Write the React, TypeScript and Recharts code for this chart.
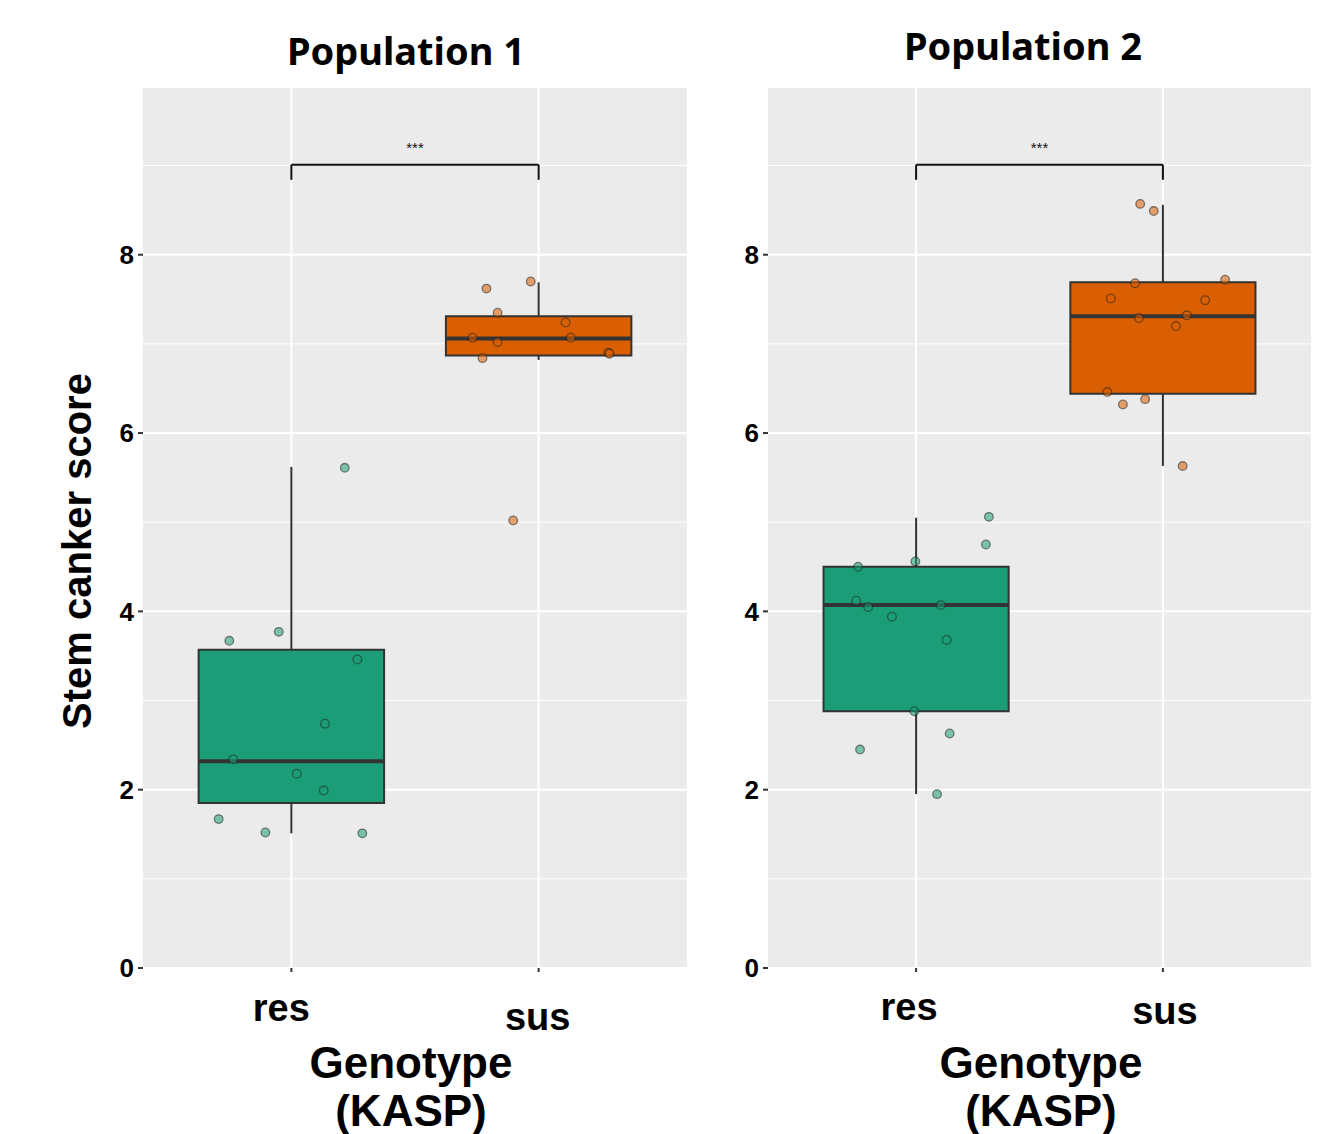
import { ComposedChart, Scatter, XAxis, YAxis, CartesianGrid, ReferenceArea, ReferenceLine } from 'recharts';

const CATEGORIES = ['res', 'sus'];
const Y_TICKS = [0, 2, 4, 6, 8];
const MINOR_TICKS = [1, 3, 5, 7, 9];
const COLORS = ['#1B9E77', '#D95F02'];

// box stats: lower whisker, q1, median, q3, upper whisker
const POP1_RES_BOX = [1.51, 1.85, 2.32, 3.57, 5.62];
const POP1_SUS_BOX = [6.82, 6.87, 7.06, 7.31, 7.69];
const POP2_RES_BOX = [1.95, 2.88, 4.07, 4.5, 5.05];
const POP2_SUS_BOX = [5.63, 6.44, 7.31, 7.69, 8.56];

// raw scores + horizontal jitter
const POP1_RES_SCORES = [5.61, 3.67, 3.77, 3.46, 2.74, 2.34, 2.18, 1.99, 1.67, 1.52, 1.51];
const POP1_RES_JITTER = [0.216, -0.251, -0.051, 0.267, 0.136, -0.235, 0.022, 0.131, -0.294, -0.105, 0.287];
const POP1_SUS_SCORES = [7.7, 7.62, 7.35, 7.24, 7.07, 7.07, 7.02, 6.9, 6.89, 6.84, 5.02];
const POP1_SUS_JITTER = [-0.032, -0.211, -0.166, 0.109, -0.267, 0.13, -0.166, 0.282, 0.287, -0.227, -0.103];
const POP2_RES_SCORES = [5.06, 4.75, 4.56, 4.5, 4.12, 4.05, 4.07, 3.94, 3.68, 2.88, 2.63, 2.45, 1.95];
const POP2_RES_JITTER = [0.295, 0.283, -0.003, -0.235, -0.243, -0.194, 0.1, -0.098, 0.124, -0.007, 0.136, -0.227, 0.085];
const POP2_SUS_SCORES = [8.57, 8.49, 7.72, 7.68, 7.51, 7.49, 7.32, 7.29, 7.2, 6.46, 6.38, 6.32, 5.63];
const POP2_SUS_JITTER = [-0.092, -0.037, 0.252, -0.113, -0.211, 0.171, 0.097, -0.097, 0.053, -0.225, -0.072, -0.162, 0.08];

const SIGNIF = '***';
const BRACKET = [8.84, 9.01]; // leg bottom, bar height

const BOX_W = 0.75;
const FONT = "'Liberation Sans', Arial, sans-serif";

const XTick = (props: any) => {
  const { x, y, payload, shifts } = props;
  const i = payload.value - 1;
  const [dx, dy] = shifts[i];
  return (
    <text x={x + dx} y={y + dy} textAnchor="middle" fontSize={38} fontWeight={700} fontFamily={FONT} fill="#000">
      {CATEGORIES[i]}
    </text>
  );
};

const Dot = (props: any) => {
  const { cx, cy, fill } = props;
  return <circle cx={cx} cy={cy} r={4.3} fill={fill} fillOpacity={0.55} stroke="#222" strokeOpacity={0.55} strokeWidth={1.3} />;
};

function Panel({ width, left, right, boxes, scores, jitter, shifts }: any) {
  return (
    <ComposedChart width={width} height={1134} margin={{ top: 88, right, bottom: 106, left }}>
      <CartesianGrid fill="#EBEBEB" stroke="#fff" strokeWidth={1} horizontalValues={MINOR_TICKS} vertical={false} />
      <CartesianGrid stroke="#fff" strokeWidth={2} horizontalValues={Y_TICKS} verticalValues={[1, 2]} />
      <XAxis
        type="number"
        dataKey="x"
        domain={[0.4, 2.6]}
        ticks={[1, 2]}
        axisLine={false}
        tickLine={{ stroke: '#333', strokeWidth: 2 }}
        tickSize={4}
        height={60}
        tick={<XTick shifts={shifts} />}
      />
      <YAxis
        type="number"
        dataKey="y"
        domain={[0, 9.87]}
        ticks={Y_TICKS}
        axisLine={false}
        tickLine={{ stroke: '#333', strokeWidth: 2 }}
        tickSize={5}
        tickMargin={4}
        width={50}
        tick={{ fontSize: 26, fontWeight: 700, fontFamily: FONT, fill: '#000' }}
      />
      {boxes.map((b: number[], c: number) => (
        <ReferenceLine
          key={`wlo${c}`}
          segment={[{ x: c + 1, y: b[0] }, { x: c + 1, y: b[1] }]}
          stroke="#333"
          strokeWidth={2}
        />
      ))}
      {boxes.map((b: number[], c: number) => (
        <ReferenceLine
          key={`whi${c}`}
          segment={[{ x: c + 1, y: b[3] }, { x: c + 1, y: b[4] }]}
          stroke="#333"
          strokeWidth={2}
        />
      ))}
      {boxes.map((b: number[], c: number) => (
        <ReferenceArea
          key={`box${c}`}
          x1={c + 1 - BOX_W / 2}
          x2={c + 1 + BOX_W / 2}
          y1={b[1]}
          y2={b[3]}
          fill={COLORS[c]}
          fillOpacity={1}
          stroke="#333"
          strokeWidth={2}
        />
      ))}
      {boxes.map((b: number[], c: number) => (
        <ReferenceLine
          key={`med${c}`}
          segment={[{ x: c + 1 - BOX_W / 2, y: b[2] }, { x: c + 1 + BOX_W / 2, y: b[2] }]}
          stroke="#333"
          strokeWidth={4}
        />
      ))}
      <ReferenceLine segment={[{ x: 1, y: BRACKET[0] }, { x: 1, y: BRACKET[1] }]} stroke="#111" strokeWidth={2} />
      <ReferenceLine segment={[{ x: 2, y: BRACKET[0] }, { x: 2, y: BRACKET[1] }]} stroke="#111" strokeWidth={2} />
      <ReferenceLine
        segment={[{ x: 1, y: BRACKET[1] }, { x: 2, y: BRACKET[1] }]}
        stroke="#111"
        strokeWidth={2}
        label={{ value: SIGNIF, position: 'top', fontSize: 15, fill: '#111', offset: 12, fontFamily: FONT }}
      />
      {scores.map((s: number[], c: number) => (
        <Scatter
          key={`pts${c}`}
          data={s.map((y, i) => ({ x: c + 1 + jitter[c][i], y }))}
          fill={COLORS[c]}
          shape={<Dot />}
          isAnimationActive={false}
        />
      ))}
    </ComposedChart>
  );
}

const txt = (x: number, y: number, size: number, extra: any = {}) => ({
  position: 'absolute' as const,
  left: x,
  top: y,
  transform: 'translate(-50%, -50%)',
  fontSize: size,
  fontWeight: 700,
  fontFamily: FONT,
  lineHeight: 1,
  whiteSpace: 'nowrap' as const,
  color: '#000',
  ...extra,
});

export default function App() {
  return (
    <div style={{ position: 'absolute', left: 0, top: 0, width: 1336, height: 1134, overflow: 'hidden', background: '#fff' }}>
      <div style={{ position: 'absolute', left: 0, top: 0 }}>
        <Panel
          width={700}
          left={93}
          right={13}
          boxes={[POP1_RES_BOX, POP1_SUS_BOX]}
          scores={[POP1_RES_SCORES, POP1_SUS_SCORES]}
          jitter={[POP1_RES_JITTER, POP1_SUS_JITTER]}
          shifts={[[-10, 47], [-1, 56]]}
        />
      </div>
      <div style={{ position: 'absolute', left: 700, top: 0 }}>
        <Panel
          width={636}
          left={18}
          right={25}
          boxes={[POP2_RES_BOX, POP2_SUS_BOX]}
          scores={[POP2_RES_SCORES, POP2_SUS_SCORES]}
          jitter={[POP2_RES_JITTER, POP2_SUS_JITTER]}
          shifts={[[-7, 46], [2, 50]]}
        />
      </div>
      <div style={txt(406, 50, 38, { fontFamily: "'Noto Sans', sans-serif" })}>Population 1</div>
      <div style={txt(1023, 45, 38, { fontFamily: "'Noto Sans', sans-serif" })}>Population 2</div>
      <div style={txt(77, 551, 40, { transform: 'translate(-50%, -50%) rotate(-90deg)' })}>Stem canker score</div>
      <div style={txt(411, 1063, 44)}>Genotype</div>
      <div style={txt(411, 1111, 44)}>(KASP)</div>
      <div style={txt(1041, 1063, 44)}>Genotype</div>
      <div style={txt(1041, 1111, 44)}>(KASP)</div>
    </div>
  );
}
